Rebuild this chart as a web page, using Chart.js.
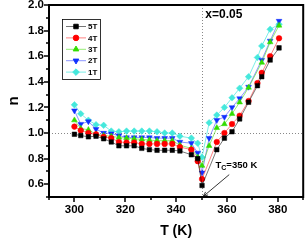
<!DOCTYPE html>
<html>
<head>
<meta charset="utf-8">
<script src="https://cdn.jsdelivr.net/npm/chart.js@4.4.0/dist/chart.umd.min.js"></script>
<style>
html, body { margin: 0; padding: 0; background: #fff; }
</style>
</head>
<body>
<canvas id="chart-n" width="307" height="240"></canvas>
<script>
// temperature grid (K), null where a series has no point
var tempK = [300, 302.5, 305.5, 308.5, 311.5, 314.5, 317.5, 320.5, 323.5, 326.5, 329.5, 332.5, 335.5, 338.5,
	341.5, 346, 348.5, 350.2, 353, 356, 359, 362, 365, 368.5, 372, 373.7, 377, 380.5];

var n5T = [0.99, 0.98, 0.97, 0.975, 0.955, 0.93, 0.90, 0.90, 0.90, 0.88, 0.87, 0.865, 0.865, 0.865,
	0.86, 0.83, 0.80, 0.59, null, 0.87, 0.96, 1.01, 1.11, 1.24, 1.37, 1.44, 1.57, 1.665];
var n4T = [1.05, 1.02, 1.0, 0.99, 0.97, 0.96, 0.93, 0.925, 0.925, 0.915, 0.915, 0.915, 0.915, 0.915,
	0.89, 0.87, 0.78, 0.64, null, 0.93, 1.0, 1.07, 1.135, 1.25, 1.39, 1.47, 1.60, 1.74];
var n3T = [1.10, 1.035, 1.025, 0.99, 0.98, 0.975, 0.965, 0.96, 0.955, 0.95, 0.945, 0.94, 0.94, 0.94,
	0.905, 0.88, 0.81, 0.745, 0.90, 1.04, 1.07, 1.15, 1.24, 1.355, null, 1.55, 1.71, 1.84];
var n2T = [1.175, 1.07, 1.09, 1.03, 1.0, 0.995, 0.98, 0.965, 0.965, 0.965, 0.965, 0.96, 0.96, 0.96,
	0.93, 0.92, 0.845, 0.69, 0.96, 1.10, 1.125, 1.20, 1.27, 1.36, null, 1.57, 1.72, 1.875];
var n1T = [1.22, 1.15, 1.10, 1.065, 1.06, 1.015, 1.01, 1.015, 1.015, 1.015, 1.015, 1.01, 1.0, 1.0,
	0.975, 0.96, 0.92, 0.81, 1.08, 1.14, 1.20, 1.275, 1.35, 1.44, 1.59, 1.68, 1.81, 1.85];

var seriesLabels = ['5T', '4T', '3T', '2T', '1T'];
var xTicksLabelled = [300, 320, 340, 360, 380];
var yTicksLabelled = ['0.6', '0.8', '1.0', '1.2', '1.4', '1.6', '1.8', '2.0'];
var tcValue = 350;
var refN = 1.0;

var FONT = '"Liberation Sans", Arial, sans-serif';

function toPoints(values) {
	var pts = [];
	for (var i = 0; i < tempK.length; i++) {
		if (values[i] !== null) pts.push({ x: tempK[i], y: values[i] });
	}
	return pts;
}

function makeSet(label, values, line, color, style, radius, rot) {
	return {
		label: label,
		data: toPoints(values),
		showLine: true,
		borderColor: line,
		borderWidth: 0.9,
		pointBackgroundColor: color,
		pointBorderColor: color,
		pointBorderWidth: 0.5,
		pointStyle: style,
		pointRotation: rot || 0,
		pointRadius: radius,
		pointHoverRadius: radius
	};
}

var decorPlugin = {
	id: 'decor',
	beforeDatasetsDraw: function(chart) {
		var ctx = chart.ctx, a = chart.chartArea;
		var xs = chart.scales.x, ys = chart.scales.y;
		ctx.save();
		ctx.strokeStyle = '#888';
		ctx.lineWidth = 1;
		ctx.setLineDash([1, 2]);
		var py = Math.round(ys.getPixelForValue(refN)) + 0.5;
		ctx.beginPath(); ctx.moveTo(a.left, py); ctx.lineTo(a.right, py); ctx.stroke();
		var px = Math.round(xs.getPixelForValue(tcValue)) + 0.5;
		ctx.beginPath(); ctx.moveTo(px, a.top); ctx.lineTo(px, a.bottom); ctx.stroke();
		ctx.restore();
	},
	afterDraw: function(chart) {
		var ctx = chart.ctx, a = chart.chartArea;
		var xs = chart.scales.x, ys = chart.scales.y;
		ctx.save();

		// frame
		ctx.strokeStyle = '#000';
		ctx.lineWidth = 2;
		ctx.strokeRect(a.left, a.top, a.right - a.left, a.bottom - a.top);

		// ticks, major longer than minor
		ctx.lineWidth = 1.5;
		ctx.beginPath();
		xs.ticks.forEach(function(t) {
			var p = Math.round(xs.getPixelForValue(t.value));
			var len = (t.value % 20 === 0) ? 5 : 3;
			ctx.moveTo(p, a.bottom); ctx.lineTo(p, a.bottom + len);
		});
		ys.ticks.forEach(function(t) {
			var p = Math.round(ys.getPixelForValue(t.value));
			var len = (Math.round(t.value * 10) % 2 === 0) ? 5 : 3;
			ctx.moveTo(a.left, p); ctx.lineTo(a.left - len, p);
		});
		ctx.stroke();

		// legend
		var lx = a.left + 13, ly = a.top + 14;
		ctx.lineWidth = 0.8;
		ctx.strokeStyle = '#000';
		ctx.strokeRect(lx + 0.5, ly + 0.5, 38, 60);
		ctx.font = 'bold 8px ' + FONT;
		ctx.textBaseline = 'middle';
		chart.data.datasets.forEach(function(ds, i) {
			var yy = ly + 7.5 + i * 11.4;
			ctx.strokeStyle = ds.borderColor;
			ctx.lineWidth = 0.9;
			ctx.beginPath(); ctx.moveTo(lx + 4, yy); ctx.lineTo(lx + 24, yy); ctx.stroke();
			ctx.fillStyle = ds.pointBackgroundColor;
			ctx.strokeStyle = ds.pointBorderColor;
			Chart.helpers.drawPoint(ctx, {
				pointStyle: ds.pointStyle, rotation: ds.pointRotation,
				radius: ds.pointRadius, borderWidth: 0.5
			}, lx + 14, yy);
			ctx.fillStyle = '#000';
			ctx.fillText(ds.label, lx + 26, yy + 0.5);
		});

		// annotations
		ctx.fillStyle = '#000';
		ctx.textBaseline = 'alphabetic';
		ctx.font = 'bold 12px ' + FONT;
		ctx.fillText('x=0.05', xs.getPixelForValue(351.5), a.top + 13);

		var tx = xs.getPixelForValue(355.5), ty = ys.getPixelForValue(0.73);
		ctx.font = 'bold 9.5px ' + FONT;
		ctx.fillText('T', tx, ty);
		var w = ctx.measureText('T').width;
		ctx.font = 'bold 7px ' + FONT;
		ctx.fillText('C', tx + w, ty + 2.5);
		var w2 = ctx.measureText('C').width;
		ctx.font = 'bold 9.5px ' + FONT;
		ctx.fillText('=350 K', tx + w + w2, ty);

		// arrow pointing at Tc
		var x1 = xs.getPixelForValue(360.9), y1 = ys.getPixelForValue(0.675);
		var x2 = xs.getPixelForValue(350.7), y2 = ys.getPixelForValue(0.505);
		ctx.strokeStyle = '#000';
		ctx.lineWidth = 0.8;
		ctx.beginPath(); ctx.moveTo(x1, y1); ctx.lineTo(x2, y2); ctx.stroke();
		var ang = Math.atan2(y2 - y1, x2 - x1);
		ctx.beginPath();
		ctx.moveTo(x2, y2);
		ctx.lineTo(x2 - 5 * Math.cos(ang - 0.4), y2 - 5 * Math.sin(ang - 0.4));
		ctx.moveTo(x2, y2);
		ctx.lineTo(x2 - 5 * Math.cos(ang + 0.4), y2 - 5 * Math.sin(ang + 0.4));
		ctx.stroke();
		ctx.restore();
	}
};

var config = {
	type: 'scatter',
	data: {
		datasets: [
			makeSet(seriesLabels[0], n5T, 'rgba(0,0,0,0.6)', '#000000', 'rect', 3.2),
			makeSet(seriesLabels[1], n4T, 'rgba(255,0,0,0.55)', '#ff0000', 'circle', 2.8),
			makeSet(seriesLabels[2], n3T, 'rgba(60,220,0,0.6)', '#33dd00', 'triangle', 3.3),
			makeSet(seriesLabels[3], n2T, 'rgba(20,40,255,0.55)', '#1030ff', 'triangle', 3.3, 180),
			makeSet(seriesLabels[4], n1T, 'rgba(60,230,220,0.75)', '#45e8dc', 'rectRot', 3.3)
		]
	},
	options: {
		responsive: false,
		animation: false,
		devicePixelRatio: 1,
		layout: { padding: { top: 5, right: 2, left: 0, bottom: 0 } },
		plugins: {
			legend: { display: false },
			tooltip: { enabled: false }
		},
		scales: {
			x: {
				type: 'linear',
				min: 290,
				max: 390,
				grid: { display: false, drawTicks: true, tickLength: 5 },
				border: { display: false },
				ticks: {
					stepSize: 10,
					autoSkip: false,
					maxRotation: 0,
					padding: 1,
					color: '#000',
					font: { family: FONT, size: 11.5, weight: 'bold' },
					callback: function(v) {
						return xTicksLabelled.indexOf(v) >= 0 ? String(v) : '';
					}
				},
				title: {
					display: true,
					text: 'T (K)',
					color: '#000',
					padding: { top: 0, bottom: 0 },
					font: { family: FONT, size: 14, weight: 'bold' }
				},
				afterFit: function(scale) {
					scale.height = 43;
					scale.paddingLeft = 0;
					scale.paddingRight = 0;
				}
			},
			y: {
				type: 'linear',
				min: 0.5,
				max: 2.0,
				grid: { display: false, drawTicks: true, tickLength: 5 },
				border: { display: false },
				ticks: {
					stepSize: 0.1,
					autoSkip: false,
					padding: 0,
					color: '#000',
					font: { family: FONT, size: 11.5, weight: 'bold' },
					callback: function(v) {
						var s = v.toFixed(1);
						return yTicksLabelled.indexOf(s) >= 0 ? s : '';
					}
				},
				title: {
					display: true,
					text: 'n',
					color: '#000',
					padding: { top: 5, bottom: 0 },
					font: { family: FONT, size: 15, weight: 'bold' }
				},
				afterFit: function(scale) {
					scale.width = 49;
					scale.paddingTop = 0;
					scale.paddingBottom = 0;
				}
			}
		}
	},
	plugins: [decorPlugin]
};

var chartN = new Chart(document.getElementById('chart-n').getContext('2d'), config);
</script>
</body>
</html>
